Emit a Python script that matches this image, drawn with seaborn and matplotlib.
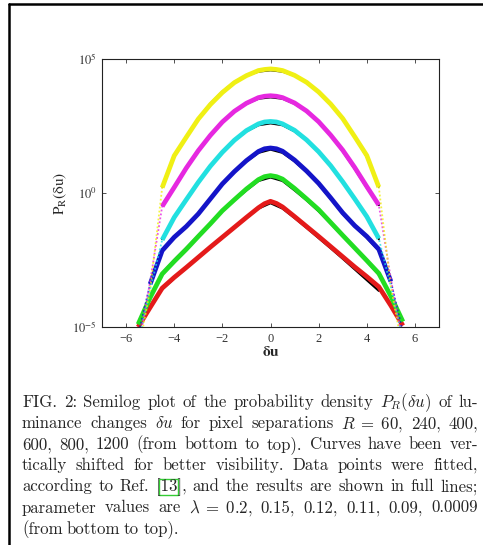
import numpy as np
import pandas as pd
import matplotlib
matplotlib.use("Agg")
import matplotlib.pyplot as plt
import seaborn as sns
from matplotlib.lines import Line2D
from matplotlib.patches import Rectangle

# log10 of P_R(du), curves shifted by one decade each
x_data = [-5.5, -5.0, -4.5, -4.0, -3.5, -3.0, -2.5, -2.0, -1.5, -1.0, -0.5, -0.25, 0.0,
          0.25, 0.5, 1.0, 1.5, 2.0, 2.5, 3.0, 3.5, 4.0, 4.5, 5.0, 5.5]
log_red = [-5.0, -4.27, -3.55, -3.15, -2.78, -2.40, -2.02, -1.65, -1.28, -0.91, -0.55, -0.4, -0.31,
           -0.39, -0.52, -0.88, -1.25, -1.62, -2.0, -2.38, -2.76, -3.12, -3.5, -4.2, -4.95]
log_green = [-4.9, -3.9, -3.02, -2.55, -2.1, -1.62, -1.15, -0.66, -0.25, 0.15, 0.5, 0.61, 0.65,
             0.61, 0.52, 0.17, -0.22, -0.62, -1.1, -1.58, -2.05, -2.52, -3.0, -3.85, -4.8]
log_blue = [-5.3, -3.4, -2.15, -1.65, -1.25, -0.78, -0.22, 0.34, 0.8, 1.21, 1.55, 1.65, 1.68,
            1.65, 1.56, 1.23, 0.82, 0.36, -0.18, -0.74, -1.22, -1.62, -2.1, -3.3, -5.2]
log_cyan = [-5.6, -3.6, -1.75, -0.91, -0.25, 0.4, 1.0, 1.52, 1.97, 2.33, 2.58, 2.65, 2.67,
            2.65, 2.58, 2.34, 1.98, 1.54, 1.02, 0.42, -0.22, -0.88, -1.7, -3.5, -5.5]
log_magenta = [-5.8, -3.3, -0.5, 0.21, 0.93, 1.58, 2.15, 2.65, 3.05, 3.35, 3.56, 3.61, 3.63,
               3.61, 3.56, 3.36, 3.06, 2.66, 2.16, 1.6, 0.95, 0.24, -0.45, -3.2, -5.7]
log_yellow = [-6.0, -3.6, 0.2, 1.39, 2.08, 2.76, 3.3, 3.75, 4.12, 4.38, 4.57, 4.61, 4.63,
              4.61, 4.57, 4.39, 4.13, 3.77, 3.32, 2.78, 2.1, 1.4, 0.22, -3.5, -5.9]

# fitted curves (black full lines)
x_fit = [-4.5, -4.0, -3.5, -3.0, -2.5, -2.0, -1.5, -1.0, -0.5, 0.0,
         0.5, 1.0, 1.5, 2.0, 2.5, 3.0, 3.5, 4.0, 4.5]
fit_red = [-3.6, -3.18, -2.8, -2.42, -2.04, -1.67, -1.3, -0.93, -0.58, -0.38,
           -0.58, -0.93, -1.3, -1.68, -2.06, -2.45, -2.85, -3.25, -3.65]
fit_green = [-3.0, -2.5, -2.05, -1.6, -1.14, -0.68, -0.27, 0.1, 0.45, 0.58,
             0.45, 0.1, -0.27, -0.68, -1.14, -1.6, -2.05, -2.55, -3.05]
fit_blue = [-2.15, -1.67, -1.25, -0.78, -0.22, 0.32, 0.78, 1.18, 1.5, 1.62,
            1.5, 1.18, 0.78, 0.32, -0.22, -0.78, -1.25, -1.67, -2.15]
fit_cyan = [-1.72, -0.9, -0.24, 0.4, 1.0, 1.52, 1.96, 2.3, 2.53, 2.6,
            2.53, 2.3, 1.96, 1.52, 1.0, 0.4, -0.24, -0.9, -1.72]
fit_magenta = [-0.45, 0.2, 0.9, 1.56, 2.14, 2.65, 3.04, 3.33, 3.52, 3.57,
               3.52, 3.33, 3.04, 2.65, 2.14, 1.56, 0.9, 0.2, -0.45]
fit_yellow = [0.25, 1.35, 2.1, 2.78, 3.33, 3.78, 4.14, 4.38, 4.53, 4.58,
              4.53, 4.38, 4.14, 3.78, 3.33, 2.78, 2.1, 1.35, 0.25]

curve_names = ["R=60", "R=240", "R=400", "R=600", "R=800", "R=1200"]
curve_colors = ["#e41a1a", "#22dd22", "#1414c8", "#22e0e0", "#e628e0", "#f0f014"]
core_limits = [5.5, 5.5, 5.0, 4.5, 4.5, 4.5]
data_logs = [log_red, log_green, log_blue, log_cyan, log_magenta, log_yellow]
fit_logs = [fit_red, fit_green, fit_blue, fit_cyan, fit_magenta, fit_yellow]

y_ticks = [1e-5, 1e0, 1e5]
y_ticklabels = [r"$10^{-5}$", r"$10^{0}$", r"$10^{5}$"]
x_ticks = [-6, -4, -2, 0, 2, 4, 6]

caption = [
    r"FIG. 2: Semilog plot of the probability density $P_R({\delta}u)$ of lu-",
    r"minance changes ${\delta}u$ for pixel separations $R\;=\;60$, 240, 400,",
    r"600, 800, 1200 (from bottom to top). Curves have been ver-",
    r"tically shifted for better visibility. Data points were fitted,",
    r"according to Ref. [13], and the results are shown in full lines;",
    r"parameter values are $\lambda\;=\;0.2$, 0.15, 0.12, 0.11, 0.09, 0.0009",
    r"(from bottom to top).",
]

rows = []
for name, logs in zip(curve_names, data_logs):
    for xv, lv in zip(x_data, logs):
        rows.append({"curve": name, "du": xv, "p": 10 ** lv})
df = pd.DataFrame(rows)
fit_rows = []
for name, logs in zip(curve_names, fit_logs):
    for xv, lv in zip(x_fit, logs):
        fit_rows.append({"curve": name, "du": xv, "p": 10 ** lv})
df_fit = pd.DataFrame(fit_rows)

sns.set_style("ticks")
plt.rcParams["font.family"] = ["Liberation Serif", "DejaVu Serif"]
plt.rcParams["mathtext.fontset"] = "stix"

W, H = 483, 545
fig = plt.figure(figsize=(W / 100, H / 100), dpi=100)
ax = fig.add_axes([102 / W, 1 - 327 / H, 337 / W, 268 / H])
ax.set_yscale("log")

for name, color, lim in zip(curve_names, curve_colors, core_limits):
    sub = df[df.curve == name]
    # sparse tail points
    sns.lineplot(data=sub, x="du", y="p", color=color, lw=1.3, ls=(0, (1, 1.2)),
                 alpha=0.8, estimator=None, sort=False, legend=False, ax=ax)
    fsub = df_fit[df_fit.curve == name]
    sns.lineplot(data=fsub, x="du", y="p", color="black", lw=1.6,
                 estimator=None, sort=False, legend=False, ax=ax)
    core = sub[sub.du.abs() <= lim]
    sns.lineplot(data=core, x="du", y="p", color=color, lw=3.4,
                 solid_joinstyle="round", solid_capstyle="butt",
                 estimator=None, sort=False, legend=False, ax=ax)

ax.set_xlim(-7, 7)
ax.set_ylim(1e-5, 1e5)
ax.set_xticks(x_ticks)
ax.set_xticklabels([str(t).replace("-", "\u2212") for t in x_ticks])
ax.set_yticks(y_ticks)
ax.set_yticklabels(y_ticklabels)
ax.minorticks_off()
ax.tick_params(direction="in", top=True, right=True, length=3, width=0.6,
               labelsize=9, pad=4, colors="#333333")
for s in ax.spines.values():
    s.set_linewidth(0.8)
    s.set_color("#222222")
ax.set_xlabel(r"$\mathbf{\delta u}$", fontsize=11, labelpad=0)
ax.set_ylabel(r"$\mathrm{P_R(\delta u)}$", fontsize=11, labelpad=2)

# page frame lines
fig.add_artist(Line2D([9 / W, 9 / W], [0, 1 - 4 / H], color="black", lw=1.8))
fig.add_artist(Line2D([9 / W, 1], [1 - 4 / H, 1 - 4 / H], color="black", lw=1.8))

# justified caption
fig.canvas.draw()
renderer = fig.canvas.get_renderer()
fs = 12.1
left_px, right_px = 22, 478
for i, line in enumerate(caption):
    base_y = 407 + 21.1 * i
    words = line.split(" ")
    texts = [fig.text(0, 1 - base_y / H, w, fontsize=fs, family="cmr10",
                      math_fontfamily="cm", va="baseline") for w in words]
    widths = [t.get_window_extent(renderer).width for t in texts]
    if i < len(caption) - 1:
        gap = (right_px - left_px - sum(widths)) / (len(words) - 1)
    else:
        gap = fs * 0.33
    xpos = left_px
    for w, t, wd in zip(words, texts, widths):
        t.set_x(xpos / W)
        if w.startswith("[13]"):
            tmp1 = fig.text(0, 0, "[", fontsize=fs, family="cmr10")
            tmp2 = fig.text(0, 0, "[13", fontsize=fs, family="cmr10")
            w1 = tmp1.get_window_extent(renderer).width
            w2 = tmp2.get_window_extent(renderer).width
            tmp1.remove()
            tmp2.remove()
            x0 = xpos + w1 - 1
            x1 = xpos + w2 + 1
            fig.add_artist(Rectangle((x0 / W, 1 - (base_y + 4) / H), (x1 - x0) / W, 16 / H,
                                     fill=False, edgecolor="#33cc33", lw=1.0,
                                     transform=fig.transFigure))
        xpos += wd + gap

fig.savefig("out.png", dpi=100)
